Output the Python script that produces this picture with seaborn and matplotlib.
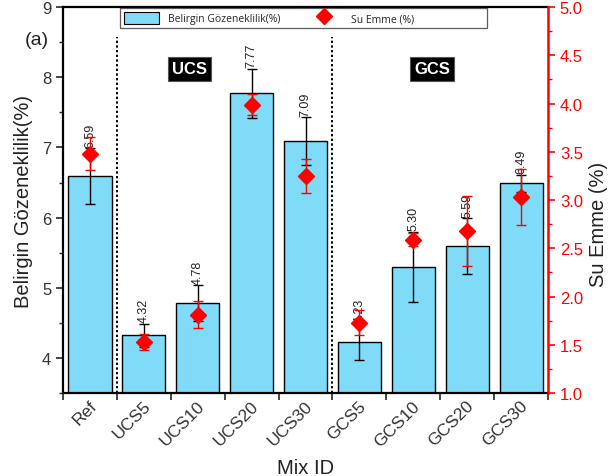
import numpy as np
import pandas as pd
import matplotlib
matplotlib.use("Agg")
import matplotlib.pyplot as plt
from matplotlib.patches import Patch
from matplotlib.lines import Line2D
from matplotlib.ticker import MultipleLocator, FixedLocator, FormatStrFormatter
from matplotlib.transforms import ScaledTranslation
import seaborn as sns

# Mixes and measured properties
mixes = ["Ref", "UCS5", "UCS10", "UCS20", "UCS30", "GCS5", "GCS10", "GCS20", "GCS30"]
porosity = [6.59, 4.32, 4.78, 7.77, 7.09, 4.23, 5.30, 5.59, 6.49]
porosity_err = [0.40, 0.17, 0.26, 0.35, 0.34, 0.26, 0.50, 0.40, 0.12]
absorption = [3.48, 1.53, 1.81, 3.99, 3.25, 1.73, 2.59, 2.68, 3.03]
absorption_err = [0.17, 0.08, 0.14, 0.11, 0.18, 0.13, 0.07, 0.36, 0.29]
group_labels = ["UCS", "GCS"]

sns.set_style("ticks")
plt.rcParams["font.family"] = ["Liberation Sans", "DejaVu Sans"]

df = pd.DataFrame({"mix": mixes, "porosity": porosity})

fig = plt.figure(figsize=(6.14, 4.77), dpi=100)
ax = fig.add_axes([0.1026, 0.174, 0.79, 0.809])

bar_color = "#80DBF8"
sns.barplot(data=df, x="mix", y="porosity", color=bar_color, saturation=1,
            edgecolor="black", linewidth=1.0, width=0.8, errorbar=None, ax=ax)

x = np.arange(len(mixes))
ax.errorbar(x, porosity, yerr=porosity_err, fmt="none", ecolor="black",
            elinewidth=1.0, capsize=3.5, capthick=1.0, zorder=3)

for xi, v, e in zip(x, porosity, porosity_err):
    ax.text(xi, v + e + 0.02, f"{v:.2f}", rotation=90, ha="center", va="bottom",
            fontsize=9, color="#222222", zorder=4)

# dotted separators between groups
for xs in (0.5, 4.5):
    ax.plot([xs, xs], [3.5, 8.57], ls=(0, (1.2, 1.2)), color="black", lw=1.4, zorder=2)

ax.set_xlim(-0.5, 8.5)
ax.set_ylim(3.5, 9)
ax.set_xlabel("Mix ID", fontsize=14.5, color="#222222", labelpad=7)
ax.set_ylabel("Belirgin Gözeneklilik(%)", fontsize=14.5, color="#222222", labelpad=6)

ax.yaxis.set_major_locator(MultipleLocator(1))
ax.yaxis.set_minor_locator(MultipleLocator(0.5))
ax.tick_params(axis="y", which="major", length=5, width=1.2, labelsize=12,
               labelcolor="#333333", direction="out")
ax.tick_params(axis="y", which="minor", length=3, width=1.0, direction="out")

ax.set_xticks(x)
ax.set_xticklabels(mixes, rotation=45, ha="right", va="top", rotation_mode="anchor")
ax.xaxis.set_minor_locator(FixedLocator(np.arange(-0.5, 9.0, 1.0)))
ax.tick_params(axis="x", which="major", length=0, labelsize=12.5, labelcolor="#333333", pad=2)
ax.tick_params(axis="x", which="minor", length=5, width=1.2, direction="out")
for lbl in ax.get_xticklabels():
    lbl.set_transform(lbl.get_transform() + ScaledTranslation(-0.01, -0.02, fig.dpi_scale_trans))

for side in ("left", "top", "bottom"):
    ax.spines[side].set_linewidth(1.6)
    ax.spines[side].set_color("black")
    ax.spines[side].set_visible(True)
ax.spines["right"].set_visible(False)

# group tags
for gx, txt in zip((1.85, 6.35), group_labels):
    ax.text(gx, 8.12, txt, ha="center", va="center", fontsize=12, fontweight="bold",
            color="white", bbox=dict(boxstyle="square,pad=0.25", facecolor="black",
                                     edgecolor="#555555", lw=0.8), zorder=5)

# secondary axis: water absorption
ax2 = ax.twinx()
ax2.errorbar(x, absorption, yerr=absorption_err, fmt="D", color="red", ms=8,
             ecolor="red", elinewidth=1.0, capsize=3.5, capthick=1.0, zorder=5)
ax2.set_ylim(1.0, 5.0)
ax2.yaxis.set_major_locator(MultipleLocator(0.5))
ax2.yaxis.set_minor_locator(MultipleLocator(0.25))
ax2.yaxis.set_major_formatter(FormatStrFormatter("%.1f"))
ax2.tick_params(axis="y", which="major", length=5, width=1.2, colors="red",
                labelsize=12, direction="out")
ax2.tick_params(axis="y", which="minor", length=3, width=1.0, colors="red", direction="out")
ax2.set_ylabel("Su Emme (%)", fontsize=14.5, color="#222222")
ax2.yaxis.set_label_coords(1.085, 0.44)
for side in ("left", "top", "bottom"):
    ax2.spines[side].set_visible(False)
ax2.spines["right"].set_color("red")
ax2.spines["right"].set_linewidth(1.8)

handles = [Patch(facecolor=bar_color, edgecolor="black", lw=0.8),
           Line2D([], [], marker="D", color="red", ls="none", ms=8),
           Line2D([], [], ls="none")]
labels = ["Belirgin Gözeneklilik(%)", "Su Emme (%)", ""]
leg = ax2.legend(handles, labels, loc="upper left", ncol=3, mode="expand",
                 bbox_to_anchor=(0.1175, 0.946, 0.757, 0.052), borderaxespad=0,
                 handlelength=3.4, handleheight=1.5, handletextpad=0.9,
                 frameon=True, fancybox=False, borderpad=0.35,
                 prop={"family": "Open Sans", "size": 7.5})
leg.get_frame().set_edgecolor("#333333")
leg.get_frame().set_linewidth(0.9)

fig.text(0.06, 0.915, "(a)", fontsize=14, color="#222222", ha="center", va="center")

fig.savefig("out.png", dpi=100)
